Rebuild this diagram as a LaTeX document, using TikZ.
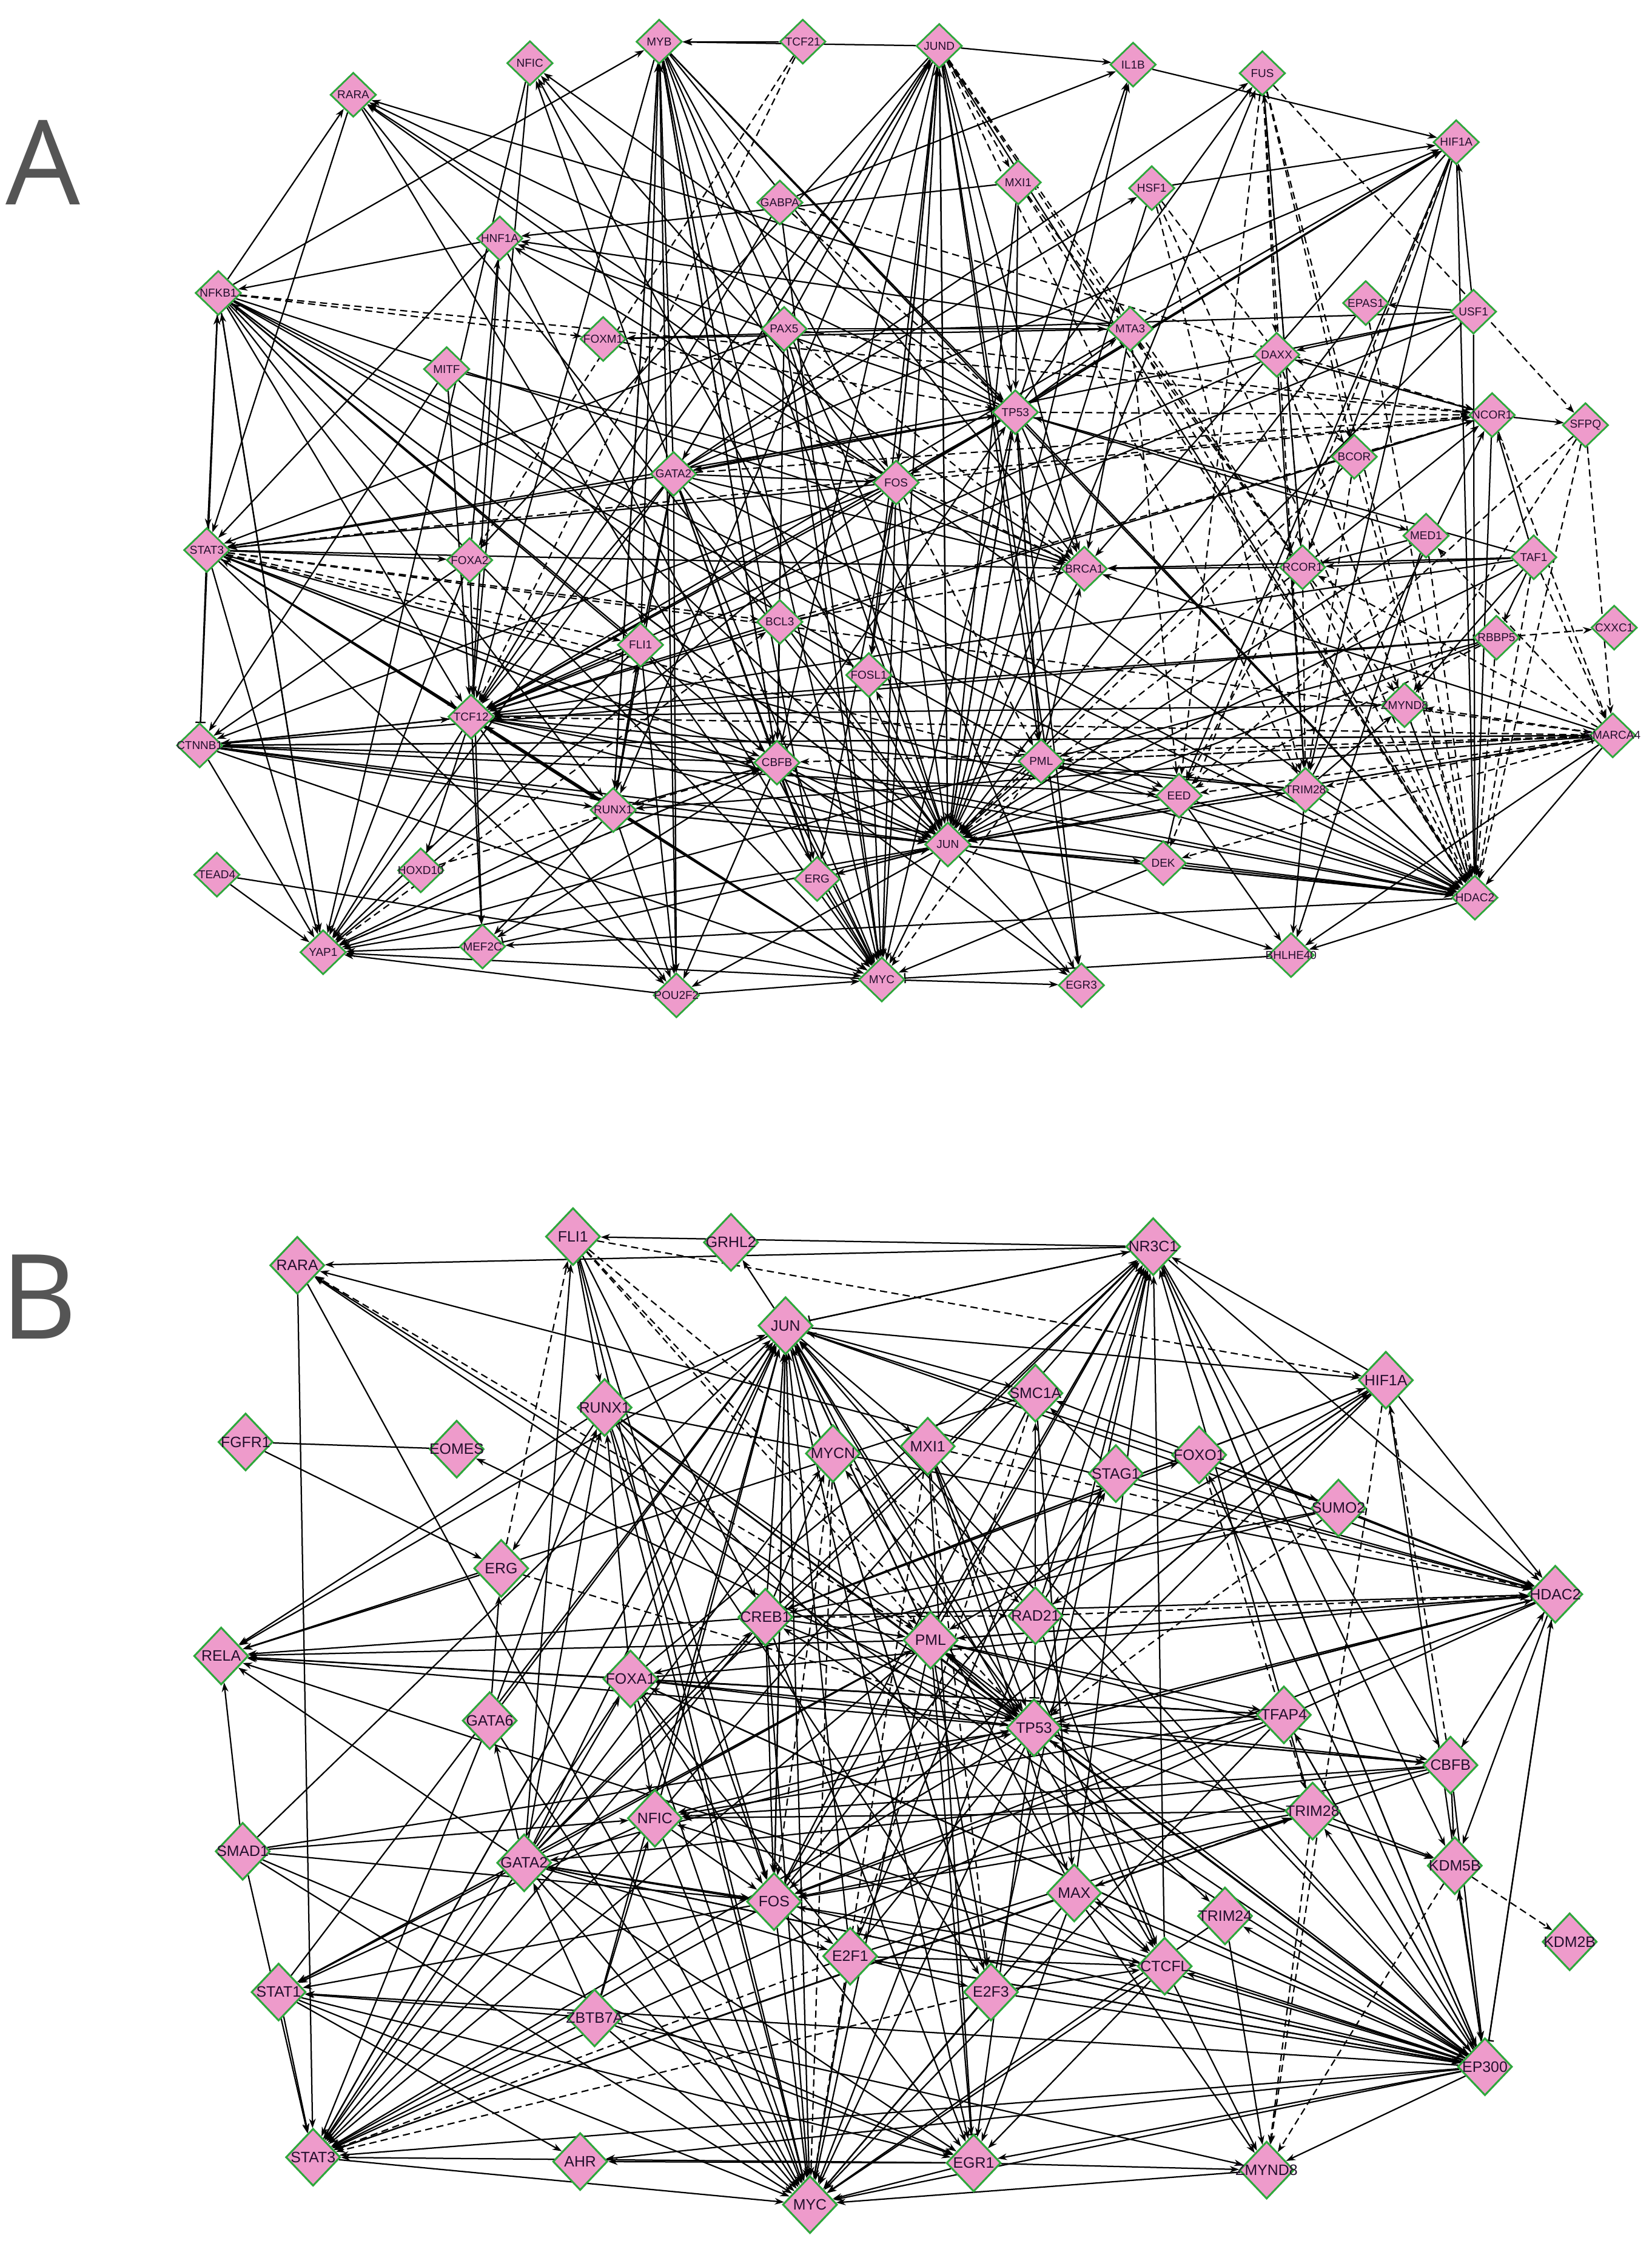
\documentclass[tikz,border=0pt]{standalone}
\usepackage{fontspec}
\setmainfont{Liberation Sans}
\newfontfamily\bigsans{Open Sans}
\usetikzlibrary{shapes.geometric,arrows.meta}
\definecolor{npink}{RGB}{238,155,203}
\definecolor{ngreen}{RGB}{46,168,60}
\definecolor{ntext}{RGB}{35,15,45}
\definecolor{lgray}{RGB}{85,85,85}
\pgfdeclarelayer{edges}
\pgfsetlayers{edges,main}
\tikzset{
 anode/.style={diamond, draw=ngreen, fill=npink, line width=1.2pt, inner sep=0pt, minimum width=32pt, minimum height=31pt, font=\fontsize{8}{9}\selectfont, text=ntext},
 bnode/.style={diamond, draw=ngreen, fill=npink, line width=1.3pt, inner sep=0pt, minimum width=38pt, minimum height=40pt, font=\fontsize{10.5}{11}\selectfont, text=ntext},
 ea/.style={-{Stealth[length=6.5pt,width=4.6pt]}, line width=0.95pt, black},
 da/.style={ea, dash pattern=on 5pt off 3pt},
 tb/.style={-{Bar[width=7pt]}, line width=0.95pt, black},
 pl/.style={line width=0.95pt, black},
 bigl/.style={font=\bigsans\fontsize{82}{82}\selectfont, text=lgray},
}
\newcommand\an[3]{\node[anode] (a#1) at (#2,#3) {\makebox[0pt]{#1}};}
\newcommand\bn[3]{\node[bnode] (b#1) at (#2,#3) {\makebox[0pt]{#1}};}
\begin{document}
\begin{tikzpicture}[x=1pt,y=-1pt]
\useasboundingbox (0,0) rectangle (1150,1568);
\node[bigl] (labA) at (30,113) {A};
\node[bigl] (labB) at (27,903) {B};
% ---------------- A nodes
\an{MYB}{459}{29}\an{TCF21}{559}{29}\an{JUND}{654}{32}\an{NFIC}{369}{44}
\an{IL1B}{789}{45}\an{FUS}{879}{51}\an{RARA}{246}{66}\an{HIF1A}{1014}{99}
\an{MXI1}{709}{127}\an{HSF1}{802}{131}\an{GABPA}{543}{141}\an{HNF1A}{348}{166}
\an{NFKB1}{152}{204}\an{EPAS1}{951}{211}\an{USF1}{1026}{217}\an{FOXM1}{420}{236}
\an{PAX5}{546}{229}\an{MTA3}{787}{229}\an{DAXX}{889}{247}\an{MITF}{311}{257}
\an{TP53}{707}{287}\an{NCOR1}{1039}{289}\an{SFPQ}{1104}{296}\an{BCOR}{943}{318}
\an{GATA2}{469}{330}\an{FOS}{624}{336}\an{STAT3}{144}{383}\an{FOXA2}{327}{390}
\an{BRCA1}{755}{396}\an{RCOR1}{907}{395}\an{MED1}{993}{373}\an{TAF1}{1068}{388}
\an{BCL3}{543}{433}\an{FLI1}{446}{449}\an{FOSL1}{605}{470}\an{RBBP5}{1042}{444}
\an{CXXC1}{1124}{437}\an{ZMYND8}{978}{491}\an{CTNNB1}{139}{519}\an{TCF12}{328}{499}
\an{CBFB}{541}{531}\an{PML}{725}{530}\an{SMARCA4}{1123}{512}\an{EED}{821}{554}
\an{TRIM28}{909}{550}\an{RUNX1}{427}{564}\an{JUN}{660}{588}\an{ERG}{569}{612}
\an{DEK}{810}{601}\an{HOXD10}{293}{606}\an{TEAD4}{151}{609}\an{HDAC2}{1027}{625}
\an{MEF2C}{336}{659}\an{YAP1}{225}{663}\an{BHLHE40}{899}{665}\an{MYC}{614}{682}
\an{EGR3}{753}{686}\an{POU2F2}{471}{693}
% ---------------- B nodes
\bn{FLI1}{399}{861}\bn{GRHL2}{509}{865}\bn{NR3C1}{803}{868}\bn{RARA}{207}{881}
\bn{JUN}{547}{923}\bn{HIF1A}{965}{961}\bn{SMC1A}{721}{970}\bn{RUNX1}{421}{980}
\bn{FGFR1}{171}{1004}\bn{EOMES}{318}{1009}\bn{MYCN}{580}{1012}\bn{MXI1}{646}{1007}
\bn{STAG1}{777}{1026}\bn{FOXO1}{835}{1013}\bn{SUMO2}{932}{1050}\bn{ERG}{349}{1092}
\bn{HDAC2}{1083}{1110}\bn{CREB1}{533}{1126}\bn{RAD21}{721}{1125}\bn{PML}{648}{1142}
\bn{RELA}{154}{1153}\bn{FOXA1}{439}{1169}\bn{GATA6}{341}{1198}\bn{TFAP4}{894}{1194}
\bn{TP53}{720}{1203}\bn{CBFB}{1010}{1229}\bn{NFIC}{456}{1266}\bn{TRIM28}{914}{1261}
\bn{SMAD1}{169}{1289}\bn{GATA2}{365}{1297}\bn{KDM5B}{1013}{1299}\bn{MAX}{748}{1318}
\bn{FOS}{539}{1324}\bn{TRIM24}{853}{1334}\bn{KDM2B}{1093}{1352}\bn{E2F1}{592}{1362}
\bn{CTCFL}{811}{1369}\bn{STAT1}{194}{1387}\bn{E2F3}{690}{1387}\bn{ZBTB7A}{414}{1405}
\bn{EP300}{1034}{1439}\bn{STAT3}{218}{1502}\bn{AHR}{404}{1505}\bn{EGR1}{678}{1506}
\bn{ZMYND8}{882}{1511}\bn{MYC}{564}{1535}
\begin{pgfonlayer}{edges}
% ---------------- A edges
\foreach \s/\t in {JUND/MYB, JUND/IL1B, JUND/FOS, JUND/JUN, JUND/MYC, JUND/GATA2, JUND/TCF12, JUND/FOXA2, JUND/CBFB, JUND/TP53, JUND/BRCA1, JUND/PML, JUND/EGR3, JUND/HDAC2, JUND/RUNX1, JUND/FOSL1,
FOS/JUND, JUN/JUND, GATA2/JUND, PAX5/JUND,
MYB/TCF12, MYB/RUNX1, MYB/CBFB, MYB/ERG, MYB/MYC, MYB/POU2F2, MYB/JUN, MYB/TP53, MYB/BRCA1, MYB/HDAC2, MYB/FLI1, MYB/FOS, MYB/EGR3,
NFKB1/MYB, GATA2/MYB, CBFB/MYB, RUNX1/MYB,
NFIC/TCF12, JUN/NFIC, FOS/NFIC, TP53/NFIC, NFIC/YAP1,
NFKB1/RARA, RARA/STAT3, RARA/MYC, TP53/RARA, FOS/RARA, BRCA1/RARA, MTA3/RARA, RARA/JUN,
TP53/IL1B, JUN/IL1B, IL1B/HIF1A,
JUN/FUS, TP53/FUS, GATA2/FUS, RCOR1/FUS,
HSF1/HIF1A, MTA3/HIF1A, TP53/HIF1A, FOS/HIF1A, GATA2/HIF1A, HIF1A/TRIM28, HIF1A/RCOR1, HIF1A/BRCA1, HIF1A/HDAC2, HIF1A/EED, HIF1A/TP53,
MXI1/TP53, MXI1/JUN, MXI1/HNF1A, HSF1/JUN, GATA2/HSF1,
GABPA/TCF12, GABPA/MYC, GABPA/IL1B,
HNF1A/NFKB1, TP53/HNF1A, FOXA2/HNF1A, FOS/HNF1A, HNF1A/TCF12, HNF1A/MYC,
NFKB1/STAT3, NFKB1/YAP1, NFKB1/TCF12, NFKB1/FLI1, NFKB1/CBFB, NFKB1/RUNX1, NFKB1/JUN, NFKB1/MYC, NFKB1/HDAC2, NFKB1/BRCA1, NFKB1/EED, NFKB1/PML,
STAT3/NFKB1, JUN/NFKB1, CTNNB1/NFKB1,
USF1/EPAS1, USF1/DAXX, USF1/TCF12, USF1/GATA2, USF1/JUN, USF1/FOXM1, USF1/HDAC2, USF1/HIF1A, EPAS1/JUN,
MTA3/FOXM1, PAX5/MTA3, PAX5/JUN, PAX5/MYC, PAX5/STAT3, PAX5/CBFB,
TP53/MTA3, MTA3/BRCA1, MTA3/HNF1A, MTA3/TCF12,
DAXX/NCOR1, NCOR1/DAXX, DAXX/TCF12, DAXX/TRIM28,
MITF/CTNNB1, MITF/TCF12, MITF/JUN, MITF/FOS,
TP53/FOS, TP53/TCF12, TP53/GATA2, TP53/JUN, TP53/MYC, TP53/HDAC2, TP53/PML, TP53/BRCA1, TP53/STAT3, TP53/EGR3,
JUN/TP53, PML/TP53, GATA2/TP53, CBFB/TP53,
NCOR1/SFPQ, NCOR1/HDAC2, TRIM28/NCOR1, TAF1/NCOR1, RCOR1/NCOR1, NCOR1/TCF12, BCOR/NCOR1,
GATA2/FOS, GATA2/TCF12, GATA2/STAT3, GATA2/RUNX1, GATA2/CBFB, GATA2/MYC, GATA2/JUN, GATA2/ERG, GATA2/POU2F2, GATA2/FLI1, GATA2/HDAC2, GATA2/BRCA1, GATA2/NFIC, GATA2/YAP1,
FOS/TCF12, FOS/STAT3, FOS/JUN, FOS/MYC, FOS/FOSL1, FOS/BRCA1, FOS/ERG, FOS/HDAC2, FOS/TP53, FOS/CTNNB1, FOS/YAP1,
STAT3/YAP1, STAT3/FOXA2, STAT3/TCF12, STAT3/CBFB, STAT3/JUN, STAT3/MYC, STAT3/HDAC2, STAT3/BRCA1, STAT3/RUNX1, STAT3/POU2F2,
TCF12/STAT3, JUN/STAT3, HNF1A/STAT3,
FOXA2/YAP1, FOXA2/CTNNB1, FOXA2/MEF2C,
BRCA1/JUN, RCOR1/BRCA1, SMARCA4/BRCA1, TAF1/BRCA1,
MED1/JUN, MED1/BHLHE40, TP53/MED1, MED1/RCOR1,
TAF1/RCOR1, TAF1/JUN, TAF1/ZMYND8, TAF1/TP53, TAF1/TCF12,
BCL3/FOSL1, BCL3/CBFB, BCL3/TCF12,
FLI1/TCF12, FLI1/RUNX1, FLI1/YAP1, FLI1/POU2F2, FLI1/MYC,
JUN/FOSL1, FOSL1/MYC,
RBBP5/TCF12, RBBP5/JUN, RBBP5/PML, TAF1/RBBP5,
TCF12/ZMYND8, TRIM28/ZMYND8,
CTNNB1/YAP1, CTNNB1/TCF12, CTNNB1/RUNX1, CTNNB1/CBFB, CTNNB1/JUN, CTNNB1/HDAC2, CTNNB1/SMARCA4, CTNNB1/MYC, CTNNB1/EED,
TCF12/CTNNB1, TCF12/YAP1, TCF12/HOXD10, TCF12/RUNX1, TCF12/MYC, TCF12/POU2F2, TCF12/MEF2C, TCF12/JUN, TCF12/CBFB, TCF12/HDAC2,
CBFB/RUNX1, CBFB/ERG, CBFB/MYC, CBFB/JUN, CBFB/HDAC2, CBFB/POU2F2, CBFB/YAP1, CBFB/MEF2C, CBFB/EGR3,
PML/JUN, PML/BRCA1, PML/EED, PML/HDAC2, PML/YAP1,
SMARCA4/HDAC2, SMARCA4/BHLHE40, SMARCA4/CTNNB1, SMARCA4/RUNX1,
EED/HDAC2, EED/BHLHE40, EED/JUN,
TRIM28/HDAC2, TRIM28/BHLHE40, TRIM28/TCF12, TRIM28/JUN,
RUNX1/TCF12, RUNX1/FLI1, RUNX1/JUN, RUNX1/YAP1, RUNX1/MEF2C, RUNX1/HDAC2, RUNX1/MYC, RUNX1/POU2F2,
JUN/MYC, JUN/ERG, JUN/EGR3, JUN/BHLHE40, JUN/HDAC2, JUN/YAP1, JUN/POU2F2, JUN/DEK,
ERG/JUN, ERG/MYC, DEK/HDAC2, DEK/MYC, TEAD4/YAP1, TEAD4/MYC,
HDAC2/BHLHE40, HDAC2/MEF2C, MEF2C/YAP1, MYC/YAP1, POU2F2/YAP1, POU2F2/MYC, MYC/EGR3, YAP1/NFKB1, TCF21/MYB}
  \draw[ea] (a\s) -- (a\t);
\foreach \s/\t in {JUND/MXI1, JUND/MTA3, JUND/RCOR1, JUND/TRIM28, TCF21/FOXA2, TCF21/TCF12,
FUS/DAXX, FUS/RCOR1, FUS/HDAC2, FUS/SFPQ, FUS/TRIM28, FUS/BCOR, FUS/EED,
HIF1A/DEK, MXI1/HDAC2, MXI1/RCOR1, HSF1/HDAC2, HSF1/TRIM28, HSF1/BCOR,
GABPA/TP53, GABPA/NCOR1, NFKB1/FOXM1, NFKB1/NCOR1, FOXM1/TP53, FOXM1/BRCA1,
PAX5/NCOR1, PAX5/BRCA1, MTA3/HDAC2, MTA3/RCOR1, MTA3/EED,
DAXX/HDAC2, DAXX/ZMYND8, EPAS1/HDAC2,
TP53/NCOR1, FOS/NCOR1, GATA2/NCOR1, STAT3/NCOR1, BCL3/NCOR1,
SFPQ/HDAC2, SFPQ/ZMYND8, SFPQ/SMARCA4, SFPQ/EED,
BCOR/JUN, BCOR/TRIM28, BCOR/HDAC2,
FOS/PML, STAT3/BCL3, STAT3/FLI1, STAT3/SMARCA4, STAT3/PML,
RCOR1/HDAC2, RCOR1/TRIM28, RCOR1/EED, RCOR1/JUN, RCOR1/ZMYND8,
MED1/HDAC2, TAF1/HDAC2, TAF1/SMARCA4, NCOR1/SMARCA4, BCL3/BRCA1,
RBBP5/CXXC1, RBBP5/HDAC2, RBBP5/EED,
SMARCA4/ZMYND8, SMARCA4/TRIM28, SMARCA4/EED, SMARCA4/PML, SMARCA4/JUN, SMARCA4/TCF12, SMARCA4/CBFB, SMARCA4/RCOR1, SMARCA4/MED1, SMARCA4/DEK,
ZMYND8/HDAC2, PML/SMARCA4, PML/MYC, HOXD10/CBFB, YAP1/CBFB, YAP1/BCL3, JUN/TRIM28}
  \draw[da] (a\s) -- (a\t);
\foreach \s/\t in {STAT3/CTNNB1, BHLHE40/MYC, JUN/SMARCA4, TRIM28/PML, CTNNB1/RBBP5, JUN/MEF2C, DEK/EED}
  \draw[tb] (a\s) -- (a\t);
% ---------------- B edges
\draw[pl] (bFGFR1) -- (bEOMES);
\foreach \s/\t in {NR3C1/RARA, HIF1A/NR3C1, JUN/NR3C1, CREB1/NR3C1, PML/NR3C1, RAD21/NR3C1, TP53/NR3C1, MAX/NR3C1, CTCFL/NR3C1, FOS/NR3C1, GATA2/NR3C1, E2F1/NR3C1, E2F3/NR3C1, FOXA1/NR3C1, NFIC/NR3C1, EP300/NR3C1, TRIM28/NR3C1, NR3C1/HDAC2, NR3C1/EP300, NR3C1/KDM5B, NR3C1/CBFB, NR3C1/FLI1,
GATA2/FLI1, FLI1/RUNX1, FLI1/CREB1, FLI1/FOS, FLI1/MYC,
JUN/GRHL2, HDAC2/RARA, TP53/RARA, EP300/RARA, RARA/STAT3, RARA/MYC,
JUN/HIF1A, JUN/HDAC2, JUN/MXI1, JUN/PML, JUN/TP53, JUN/FOS, JUN/MYC, JUN/STAT3, JUN/RELA, JUN/CTCFL, JUN/EGR1, JUN/E2F3, JUN/SMC1A,
CREB1/JUN, FOS/JUN, GATA2/JUN, FOXA1/JUN, NFIC/JUN, PML/JUN, ZBTB7A/JUN, STAT1/JUN, STAT3/JUN, E2F1/JUN, MAX/JUN, EP300/JUN, RUNX1/JUN, SMAD1/JUN, GATA6/JUN, E2F3/JUN,
HIF1A/EP300, HIF1A/RAD21, HIF1A/CREB1, HIF1A/FOS, HIF1A/HDAC2, HIF1A/TP53, HIF1A/PML,
CREB1/HIF1A, RAD21/HIF1A,
RAD21/SMC1A, STAG1/SMC1A, SMC1A/FOS, SMC1A/RELA, SMC1A/MAX,
RUNX1/RELA, RUNX1/ERG, RUNX1/HDAC2, RUNX1/TP53, RUNX1/PML, RUNX1/CTCFL, RUNX1/EP300, RUNX1/MYC, RUNX1/FOS, RUNX1/E2F3,
GATA2/RUNX1, GATA6/RUNX1, FOXA1/RUNX1,
FGFR1/ERG, TP53/EOMES, CREB1/MYCN, TP53/MYCN, GATA2/MYCN,
MXI1/TP53, MXI1/EP300, MXI1/CTCFL, MXI1/MAX,
RAD21/STAG1, FOS/STAG1, STAG1/HDAC2,
CREB1/FOXO1, EP300/FOXO1, FOXO1/HDAC2, FOXO1/SUMO2,
SUMO2/HDAC2, SUMO2/SMC1A, SUMO2/JUN, SUMO2/FOXA1, SUMO2/CREB1,
ERG/RELA, GATA6/ERG,
FOXA1/HDAC2, CREB1/HDAC2, PML/HDAC2, TP53/HDAC2, EP300/HDAC2,
HDAC2/KDM5B, HDAC2/CBFB, HDAC2/NFIC, HDAC2/STAT3, HDAC2/FOS, HDAC2/TP53, HDAC2/PML,
CREB1/FOS, CREB1/MYC, CREB1/TP53, CREB1/STAT3, CREB1/EGR1, CREB1/PML, CREB1/RELA,
RAD21/CTCFL, RAD21/MYC, RAD21/JUN,
PML/TP53, PML/RELA, PML/STAT3, PML/MYC, PML/TFAP4, PML/CBFB, PML/EGR1, PML/STAT1, PML/E2F3, TP53/PML,
FOXA1/RELA, FOXA1/NFIC, FOXA1/FOS, FOXA1/TP53, FOXA1/TFAP4, FOXA1/MYC, FOXA1/STAT3, FOXA1/EP300, FOXA1/CBFB, GATA2/FOXA1,
GATA6/MYC, GATA6/STAT3, GATA2/GATA6,
TFAP4/TP53, TFAP4/MYC, TFAP4/EP300, TFAP4/FOS, TFAP4/NFIC, TFAP4/RELA,
TP53/MYC, TP53/STAT3, TP53/RELA, TP53/EP300, TP53/CBFB, TP53/E2F1, TP53/EGR1, TP53/KDM5B,
CBFB/KDM5B, CBFB/EP300, CBFB/NFIC, CBFB/FOS, CBFB/TP53, CBFB/MAX, CBFB/GATA2,
NFIC/FOS, NFIC/STAT3, NFIC/MYC, NFIC/STAT1, ZBTB7A/NFIC, EP300/NFIC, TRIM28/NFIC,
TRIM28/KDM5B, TRIM28/FOS, TRIM28/STAT3, E2F1/TRIM28, EP300/TRIM28,
SMAD1/RELA, SMAD1/STAT3, SMAD1/NFIC, SMAD1/FOS, SMAD1/MYC, SMAD1/TP53, SMAD1/EGR1,
GATA2/RELA, GATA2/FOS, GATA2/MYC, GATA2/EGR1, GATA2/STAT3, GATA2/STAT1, GATA2/E2F1, GATA2/EP300, GATA2/PML, GATA2/CREB1, GATA2/TP53, GATA2/CTCFL,
EP300/KDM5B, MAX/MYC, MAX/CTCFL, MAX/EGR1, MAX/ZMYND8, MAX/STAT3,
FOS/MYC, FOS/STAT3, FOS/HIF1A, FOS/STAT1, FOS/EGR1, FOS/E2F1,
TRIM24/ZMYND8, TRIM24/MYC, PML/TRIM24, EP300/TRIM24,
E2F1/E2F3, E2F1/CTCFL, E2F1/MYC, E2F1/EP300,
CTCFL/ZMYND8, CTCFL/MYC, CTCFL/EGR1, EP300/CTCFL, E2F3/CTCFL,
STAT1/STAT3, STAT1/AHR, STAT1/MYC, STAT1/EGR1, ZBTB7A/STAT1, EP300/STAT1,
E2F3/MYC, E2F3/EP300,
ZBTB7A/GATA2, ZBTB7A/MYC, ZBTB7A/EGR1, ZBTB7A/STAT3, ZBTB7A/ZMYND8,
EP300/MYC, EP300/ZMYND8, EP300/STAT3, EP300/RELA, EP300/FOS, EP300/PML, EP300/TP53, EP300/EGR1, EP300/AHR, EP300/E2F1, EP300/MAX, EP300/CREB1, EP300/GATA2, EP300/FOXA1, EP300/TFAP4,
STAT3/MYC, EGR1/ZMYND8, EGR1/MYC, EGR1/AHR, EGR1/STAT3, ZMYND8/MYC}
  \draw[ea] (b\s) -- (b\t);
\foreach \s/\t in {ERG/FLI1, FLI1/PML, FLI1/TP53, FLI1/HIF1A, FLI1/RAD21, PML/RARA, HIF1A/ZMYND8, MXI1/HDAC2, MXI1/MYC, RAD21/HDAC2, ERG/TP53, CBFB/HIF1A, CBFB/HDAC2, TRIM28/ZMYND8, KDM5B/KDM2B, KDM5B/ZMYND8, E2F1/STAT3, E2F3/STAT3, MAX/TRIM28, MYCN/FOS, SUMO2/TP53, CREB1/RAD21, MYCN/MYC, MXI1/E2F3, FOXO1/TRIM28, SMC1A/E2F1}
  \draw[da] (b\s) -- (b\t);
\foreach \s/\t in {NR3C1/JUN, HDAC2/EP300, RAD21/TP53, TFAP4/FOXA1, E2F1/FOXA1, MXI1/EGR1}
  \draw[tb] (b\s) -- (b\t);
\end{pgfonlayer}
\end{tikzpicture}
\end{document}
